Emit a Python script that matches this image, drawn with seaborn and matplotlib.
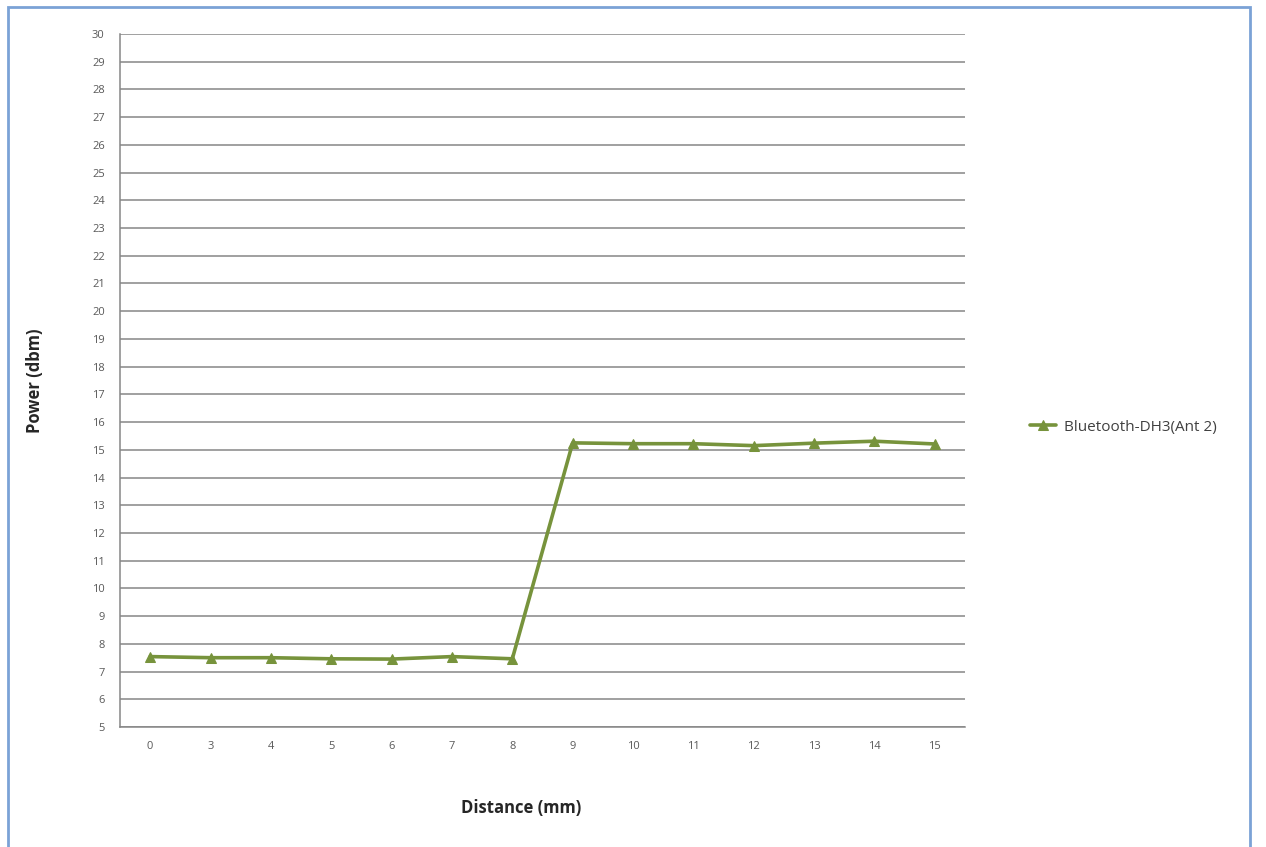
import matplotlib
matplotlib.use("Agg")
import matplotlib.pyplot as plt
import seaborn as sns
import pandas as pd
from matplotlib.patches import Rectangle
from matplotlib.ticker import FixedLocator

distance_labels = ["0", "3", "4", "5", "6", "7", "8", "9", "10", "11", "12", "13", "14", "15"]
power_values = [7.54, 7.50, 7.50, 7.46, 7.45, 7.54, 7.46, 15.25, 15.22, 15.22, 15.15, 15.24, 15.31, 15.21]
series_name = "Bluetooth-DH3(Ant 2)"
y_ticks = list(range(5, 31))

sns.set_style("white")
plt.rcParams["font.family"] = ["Open Sans", "DejaVu Sans"]

df = pd.DataFrame({"Distance": distance_labels, "Power": power_values, "Series": series_name})

fig = plt.figure(figsize=(12.66, 8.47), dpi=100)
ax = fig.add_axes([120 / 1266, 1 - 727 / 847, 845 / 1266, 693 / 847])

line_color = "#77933C"
sns.lineplot(data=df, x="Distance", y="Power", hue="Series", palette=[line_color],
             sort=False, marker="^", markersize=7, linewidth=2.6,
             markeredgecolor=line_color, ax=ax)

ax.set_xlim(-0.5, len(distance_labels) - 0.5)
ax.set_ylim(5, 30)
ax.yaxis.set_major_locator(FixedLocator(y_ticks))
ax.xaxis.set_minor_locator(FixedLocator([i - 0.5 for i in range(len(distance_labels) + 1)]))
ax.tick_params(axis="x", which="major", length=0, labelsize=8, labelcolor="#595959", pad=10)
ax.tick_params(axis="x", which="minor", length=5, width=1, color="#868686", direction="out")
ax.tick_params(axis="y", which="major", length=5, width=1, color="#868686", direction="out",
               labelsize=8, labelcolor="#595959", pad=6)
ax.grid(axis="y", color="#868686", linewidth=1.1)
ax.set_axisbelow(True)
for side in ["top", "right"]:
    ax.spines[side].set_visible(False)
for side in ["left", "bottom"]:
    ax.spines[side].set_color("#868686")
    ax.spines[side].set_linewidth(1.1)

ax.set_xlabel("Distance (mm)", fontsize=12, fontweight="bold", color="#262626")
ax.xaxis.set_label_coords((521 - 120) / 845, -(799 - 727) / 693)
ax.set_ylabel("Power (dbm)", fontsize=12, fontweight="bold", color="#262626")
ax.yaxis.set_label_coords(-(120 - 44) / 845, 0.5)

leg = ax.legend(loc="center left", frameon=False, fontsize=11, handlelength=1.7,
                handletextpad=0.5, labelcolor="#404040", borderaxespad=0, borderpad=0)
leg.set_bbox_to_anchor((1030 / 1266, 1 - 427 / 847), transform=fig.transFigure)

border = Rectangle((8 / 1266, -0.05), (1250 - 8) / 1266, (847 - 7) / 847 + 0.05,
                   transform=fig.transFigure, fill=False, edgecolor="#7BA2D6",
                   linewidth=2, clip_on=False)
fig.patches.append(border)

fig.savefig("out.png", dpi=100, facecolor="white")
